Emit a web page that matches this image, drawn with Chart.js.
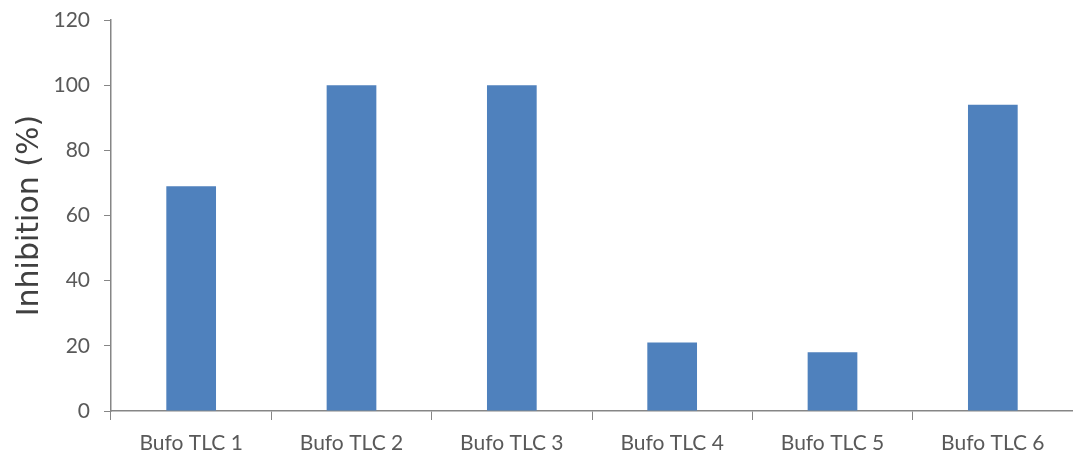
<!DOCTYPE html>
<html>
<head>
<meta charset="utf-8">
<script src="https://cdn.jsdelivr.net/npm/chart.js@4"></script>
<style>
  html, body { margin: 0; padding: 0; background: #fff; }
  #wrap { width: 1073px; height: 459px; }
</style>
</head>
<body>
<div id="wrap"><canvas id="c" width="1073" height="459"></canvas></div>
<script>
const categories = ["Bufo TLC 1", "Bufo TLC 2", "Bufo TLC 3", "Bufo TLC 4", "Bufo TLC 5", "Bufo TLC 6"];
const inhibition = [69, 100, 100, 21, 18, 94];
const yTicks = [0, 20, 40, 60, 80, 100, 120];
const yTitle = "Inhibition (%)";

const axisColor = "#868686";
const labelColor = "#595959";
const fontFam = "Lato, 'Open Sans', sans-serif";

new Chart(document.getElementById("c"), {
  type: "bar",
  data: {
    labels: categories,
    datasets: [{
      data: inhibition,
      backgroundColor: "#4F81BD",
      borderWidth: 0,
      categoryPercentage: 1.0,
      barPercentage: 0.31
    }]
  },
  options: {
    responsive: false,
    animation: false,
    devicePixelRatio: 1,
    layout: { padding: { top: 20, right: 0, left: 12, bottom: 0 } },
    plugins: { legend: { display: false }, tooltip: { enabled: false } },
    scales: {
      x: {
        grid: { drawOnChartArea: false, drawTicks: true, tickLength: 9, color: axisColor, offset: true },
        border: { color: axisColor, width: 1.5 },
        ticks: { color: labelColor, font: { family: fontFam, size: 21 }, padding: 11, maxRotation: 0 },
        afterFit: s => { s.height = 48; s.paddingLeft = 0; s.paddingRight = 0; }
      },
      y: {
        min: 0, max: 120,
        afterBuildTicks: s => { s.ticks = yTicks.map(v => ({ value: v })); },
        grid: { drawOnChartArea: false, drawTicks: true, tickLength: 7, color: axisColor },
        border: { color: axisColor, width: 1.5 },
        ticks: { color: labelColor, font: { family: fontFam, size: 21 }, padding: 14 },
        title: { display: true, text: yTitle, color: "#404040", font: { family: "'DejaVu Sans', sans-serif", size: 30 }, padding: { top: 0, bottom: 0 } },
        afterFit: s => { s.width = 99; s.paddingTop = 0; s.paddingBottom = 0; }
      }
    }
  }
});
</script>
</body>
</html>
